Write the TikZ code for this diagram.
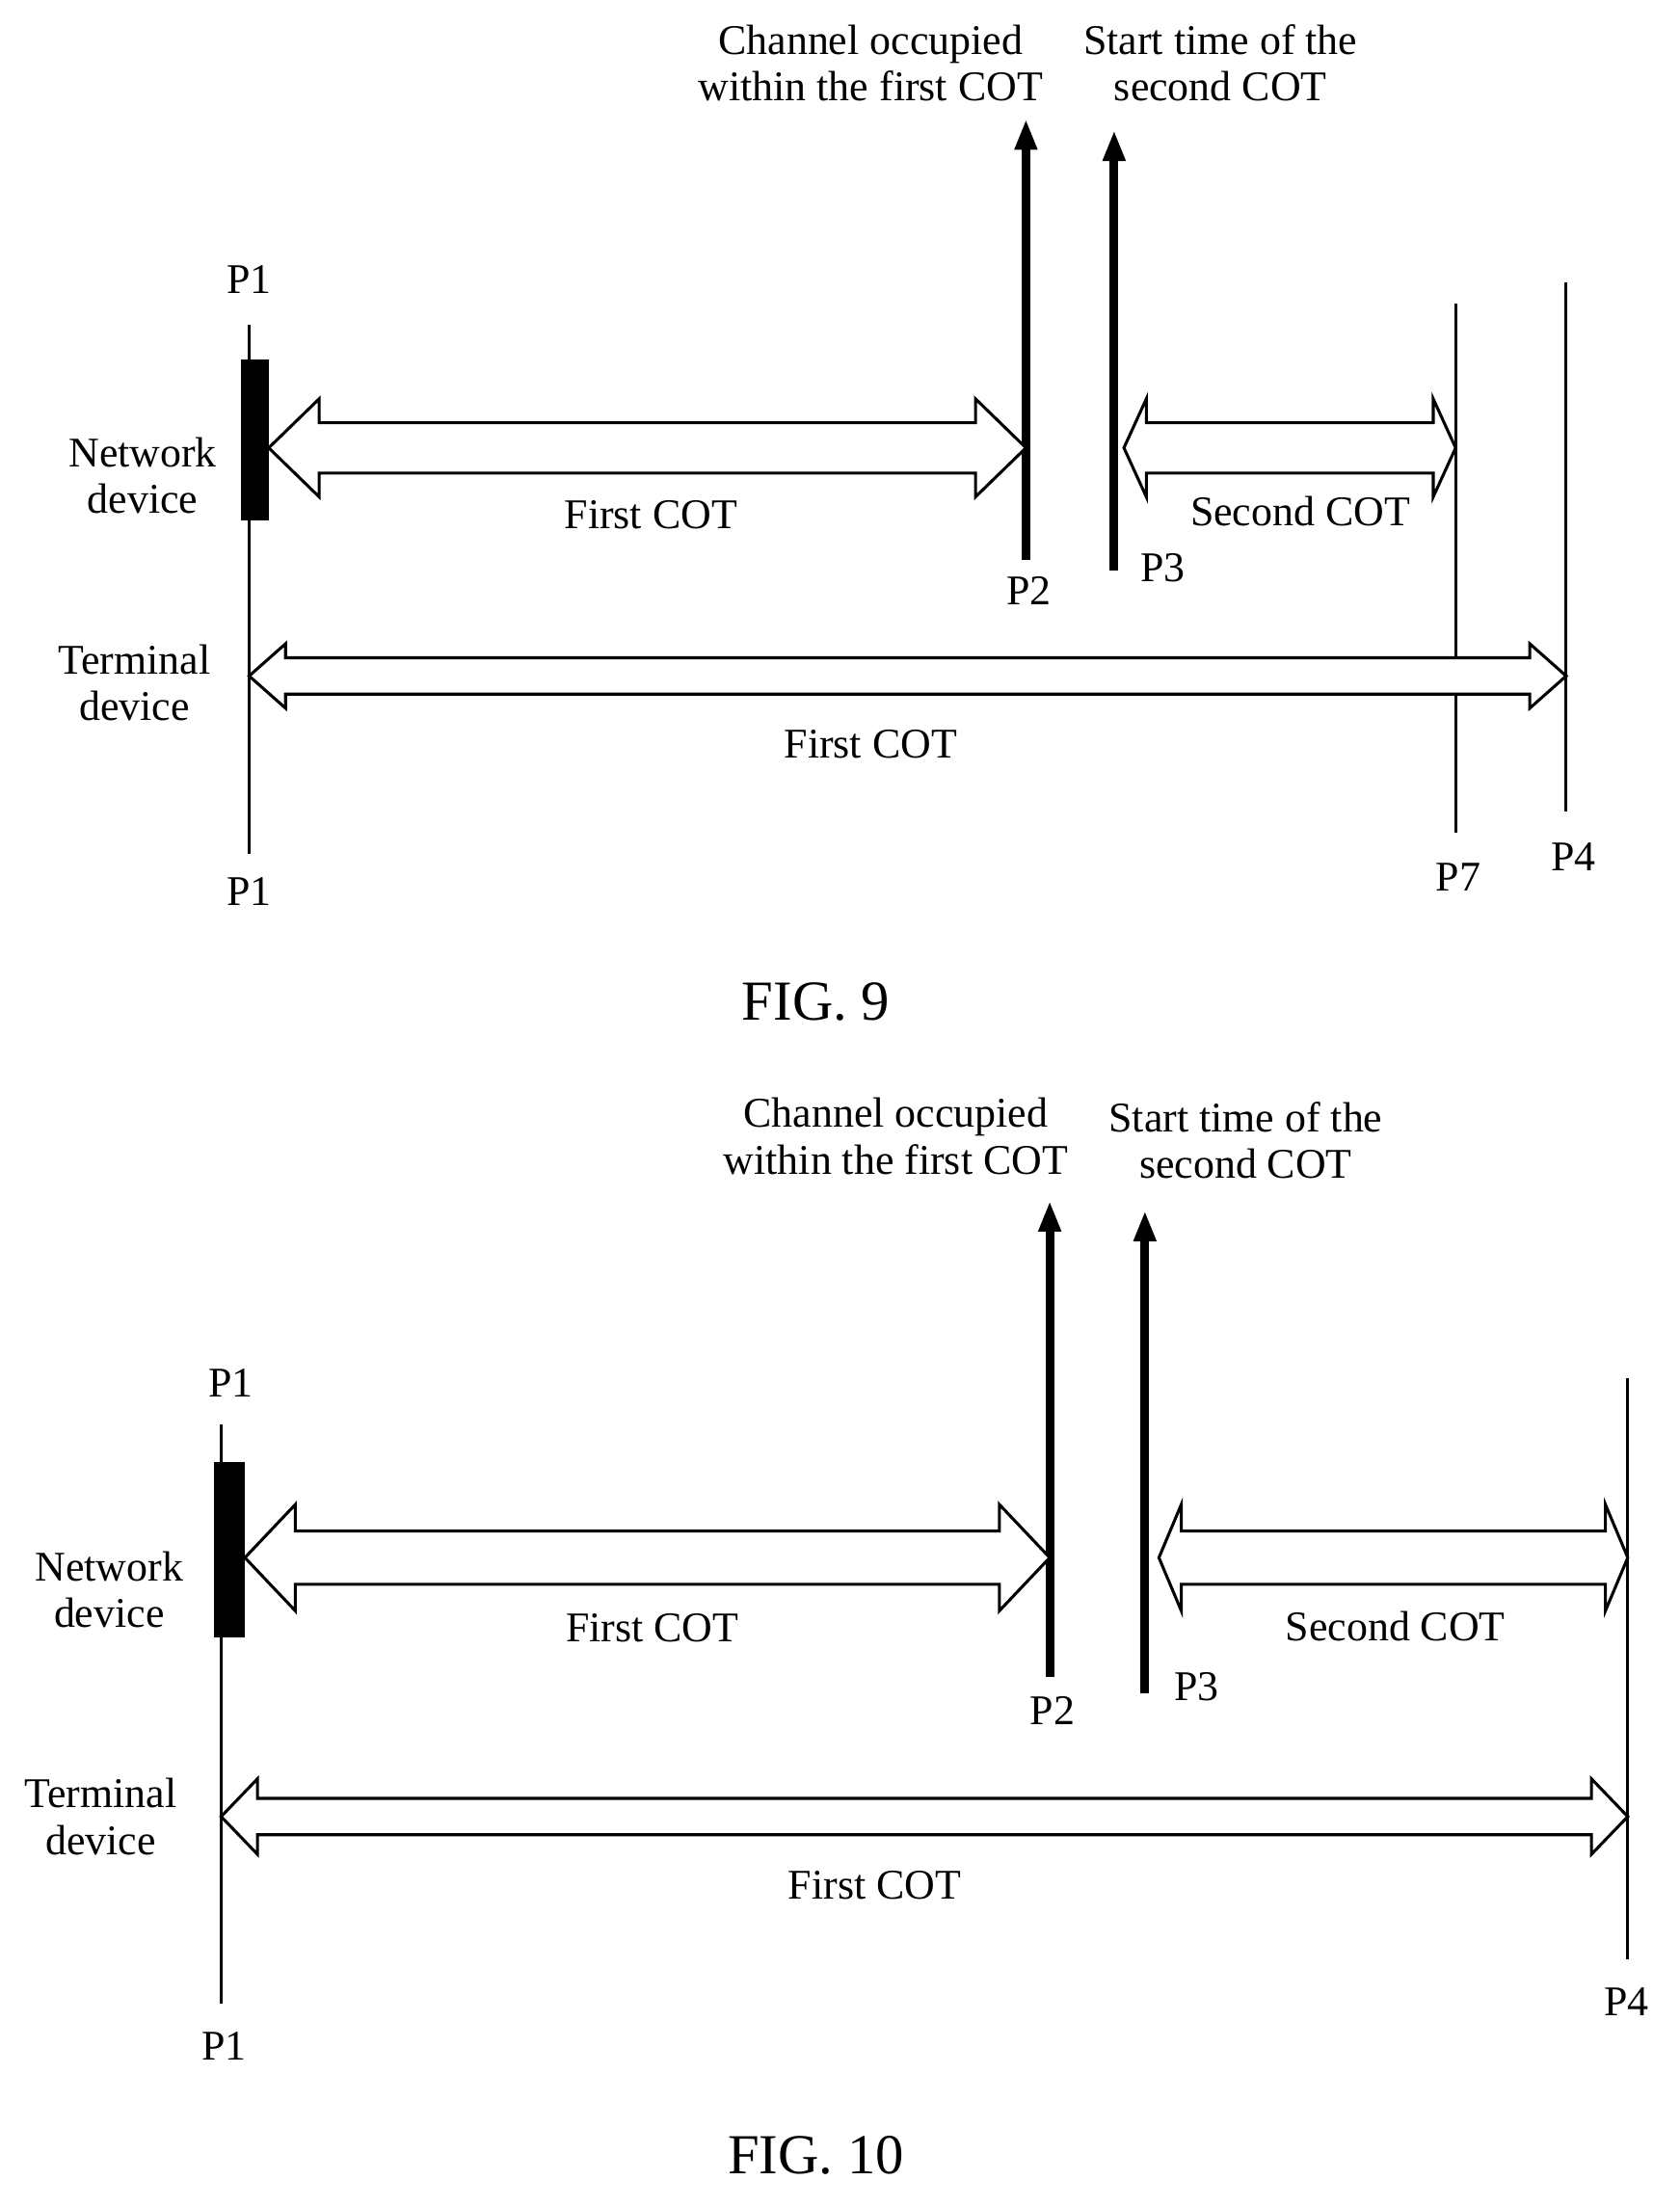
\documentclass[tikz,border=0pt]{standalone}
\usepackage{fontspec}
\setmainfont{Liberation Serif}
\usetikzlibrary{arrows.meta,positioning,calc}

% hollow double arrow: from (#1) to (#2), half shaft #3, half head #4, head length #5
\newcommand{\hollowarrow}[5]{%
  \draw[hollow] (#1) -- ($(#1)+(#5,-#4)$) -- ($(#1)+(#5,-#3)$) -- ($(#2)+(-#5,-#3)$)
    -- ($(#2)+(-#5,-#4)$) -- (#2) -- ($(#2)+(-#5,#4)$) -- ($(#2)+(-#5,#3)$)
    -- ($(#1)+(#5,#3)$) -- ($(#1)+(#5,#4)$) -- cycle;}

\begin{document}
\begin{tikzpicture}[x=0.1mm,y=-0.1mm,
    every node/.style={font=\fontsize{8.6}{10.5}\selectfont, align=center},
    thin line/.style={line width=0.6pt},
    thick line/.style={line width=1.8pt, -{Triangle[length=2.2mm,width=1.5mm]}},
    hollow/.style={line width=0.6pt, fill=white},
    block/.style={fill=black}
]
\useasboundingbox (0,0) rectangle (1200,1577);

% ---------------- FIG. 9
\coordinate (a1t) at (178,232); \coordinate (a1b) at (178,610);
\draw[thin line] (a1t) -- (a1b);
\node (a1up) at (178,200) {P1};
\node (a1dn) at (178,637) {P1};
\fill[block] (172,257) rectangle (192,372);
\node (anet) at (102,340) {Network\\[-1pt]device};
\node (aterm) at (96,488) {Terminal\\[-1pt]device};

\coordinate (a2b) at (733,400); \coordinate (a2t) at (733,85);
\draw[thick line] (a2b) -- (a2t);
\node (a2) at (735,422) {P2};
\coordinate (a3b) at (796,408); \coordinate (a3t) at (796,93);
\draw[thick line] (a3b) -- (a3t);
\node (a3) at (831,406) {P3};
\node (achan) at (622,45) {Channel occupied\\[-1pt]within the first COT};
\node (astart) at (872,45) {Start time of the\\[-1pt]second COT};

\coordinate (a7t) at (1040,217); \coordinate (a7b) at (1040,595);
\draw[thin line] (a7t) -- (a7b);
\node (a7) at (1042,627) {P7};
\coordinate (a4t) at (1119,202); \coordinate (a4b) at (1119,580);
\draw[thin line] (a4t) -- (a4b);
\node (a4) at (1124,612) {P4};

\coordinate (af1) at (192,320); \coordinate (af2) at (733,320);
\hollowarrow{af1}{af2}{18}{35}{36}
\node (afirst) at (465,368) {First COT};
\coordinate (as1) at (803,320); \coordinate (as2) at (1040,320);
\hollowarrow{as1}{as2}{18}{35}{16}
\node (asecond) at (929,365) {Second COT};
\coordinate (at1) at (178,483); \coordinate (at2) at (1119,483);
\hollowarrow{at1}{at2}{13}{23}{26}
\node (afirstt) at (622,532) {First COT};
\node[font=\fontsize{11.5}{13}\selectfont] (fig9) at (583,716) {FIG. 9};

% ---------------- FIG. 10
\coordinate (b1t) at (158,1018); \coordinate (b1b) at (158,1432);
\draw[thin line] (b1t) -- (b1b);
\node (b1up) at (165,988) {P1};
\node (b1dn) at (160,1462) {P1};
\fill[block] (153,1045) rectangle (175,1170);
\node (bnet) at (78,1136) {Network\\[-1pt]device};
\node (bterm) at (72,1298) {Terminal\\[-1pt]device};

\coordinate (b2b) at (750,1198); \coordinate (b2t) at (750,858);
\draw[thick line] (b2b) -- (b2t);
\node (b2) at (752,1222) {P2};
\coordinate (b3b) at (818,1210); \coordinate (b3t) at (818,865);
\draw[thick line] (b3b) -- (b3t);
\node (b3) at (855,1205) {P3};
\node (bchan) at (640,812) {Channel occupied\\[-1pt]within the first COT};
\node (bstart) at (890,815) {Start time of the\\[-1pt]second COT};

\coordinate (b4t) at (1163,985); \coordinate (b4b) at (1163,1400);
\draw[thin line] (b4t) -- (b4b);
\node (b4) at (1162,1430) {P4};

\coordinate (bf1) at (175,1113); \coordinate (bf2) at (750,1113);
\hollowarrow{bf1}{bf2}{19}{38}{36}
\node (bfirst) at (466,1163) {First COT};
\coordinate (bs1) at (828,1113); \coordinate (bs2) at (1163,1113);
\hollowarrow{bs1}{bs2}{19}{38}{16}
\node (bsecond) at (997,1162) {Second COT};
\coordinate (bt1) at (158,1298); \coordinate (bt2) at (1163,1298);
\hollowarrow{bt1}{bt2}{13}{27}{26}
\node (bfirstt) at (625,1347) {First COT};
\node[font=\fontsize{11.5}{13}\selectfont] (fig10) at (583,1540) {FIG. 10};
\end{tikzpicture}
\end{document}
